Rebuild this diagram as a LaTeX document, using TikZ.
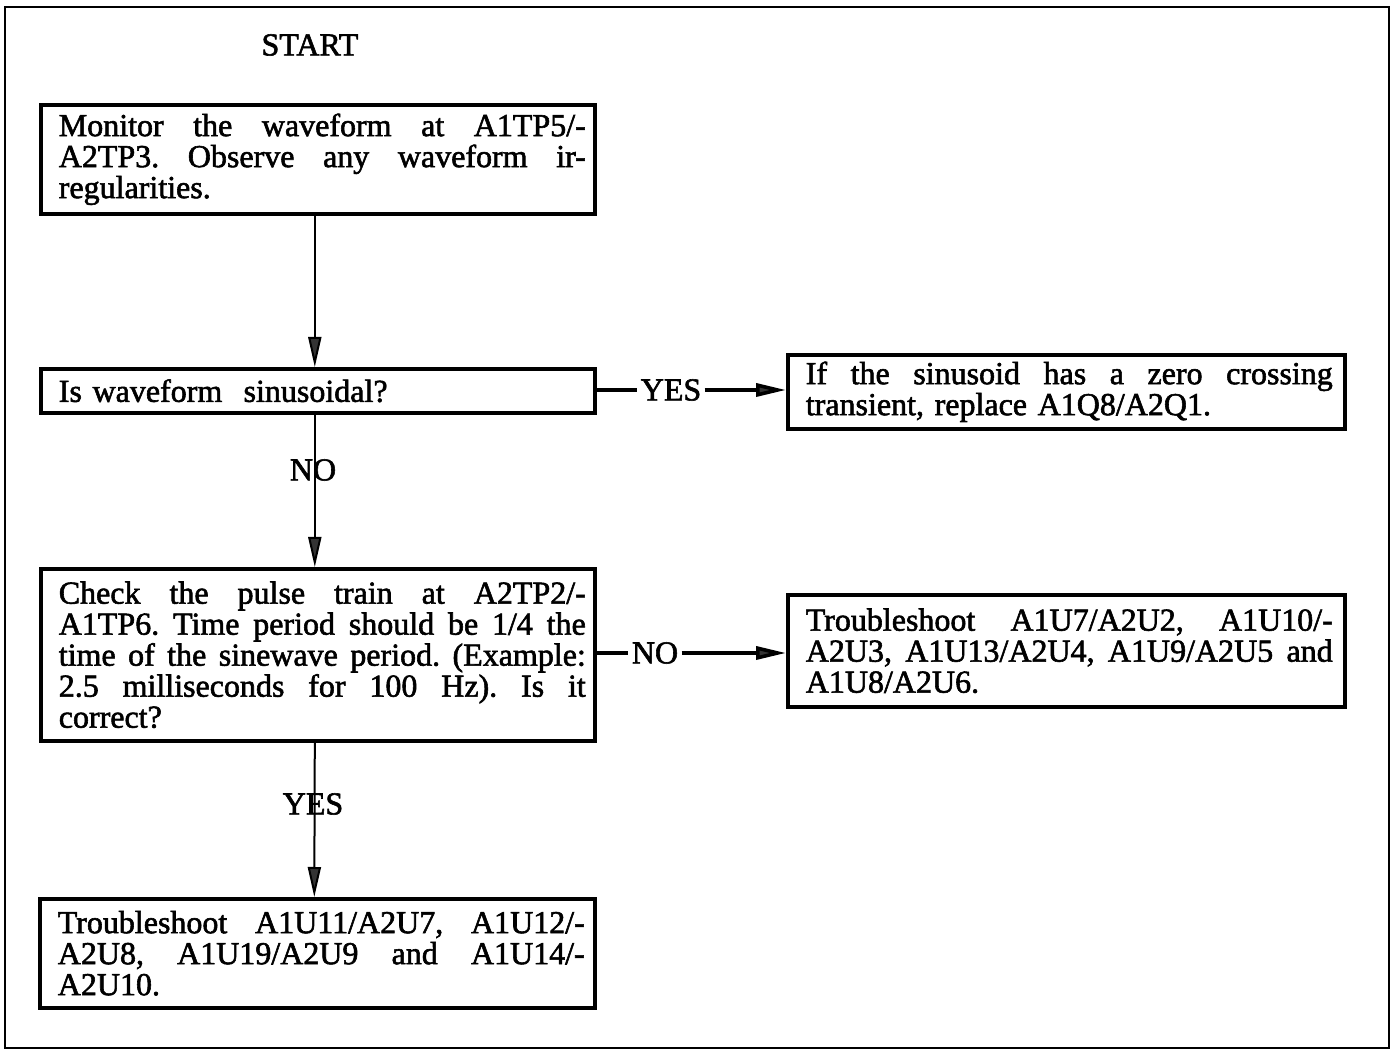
\documentclass[tikz,border=0pt]{standalone}
\usepackage{fontspec}
\setmainfont{Liberation Serif}[FakeBold=1.8]
\usetikzlibrary{arrows.meta}

% justified line and plain last line of a box text
\newcommand{\jl}[1]{\hspace*{9pt}{\frenchspacing\spaceskip=0.25em plus 3em\relax
  \makebox[263.5pt][s]{#1}}}
\newcommand{\lastl}[1]{\hspace*{9pt}#1}

\begin{document}
\begin{tikzpicture}[x=0.5pt,y=-0.5pt,
  every node/.style={font=\fontsize{16pt}{15.5pt}\selectfont},
  stepbox/.style={draw, line width=1.8pt, anchor=north west, align=left,
    text width=277pt, inner xsep=0pt, inner ysep=0pt},
  vflow/.style={line width=1pt, -{Triangle[length=15pt,width=6.5pt,fill=black!80]}},
  hflow/.style={line width=1.8pt},
  hflowtip/.style={line width=1.8pt, -{Triangle[length=15pt,width=6.5pt,fill=black!80]}},
  tag/.style={inner sep=1.5pt}
]
% page and frame
\useasboundingbox (0,0) rectangle (1393,1052);
\fill[white] (0,0) rectangle (1393,1052);
\draw[line width=1.3pt] (5,7) rectangle (1389,1048);

\node (start) at (310,45) {START};

\node[stepbox, minimum height=54.5pt] (mon) at (39,103)
  {\jl{Monitor the waveform at A1TP5/-}\\
   \jl{A2TP3. Observe any waveform ir-}\\
   \lastl{regularities.}};

\node[stepbox, minimum height=22pt] (sine) at (39,367)
  {\lastl{Is waveform\ \ sinusoidal?}};

\node[stepbox, text width=278.5pt, minimum height=37pt] (zero) at (786,353)
  {\jl{If the sinusoid has a zero crossing}\\
   \lastl{transient, replace A1Q8/A2Q1.}};

\node[stepbox, minimum height=86pt] (pulse) at (39,567)
  {\jl{Check the pulse train at A2TP2/-}\\
   \jl{A1TP6. Time period should be 1/4 the}\\
   \jl{time of the sinewave period. (Example:}\\
   \jl{2.5 milliseconds for 100 Hz). Is it}\\
   \lastl{correct?}};

\node[stepbox, text width=278.5pt, minimum height=56pt] (tsa) at (786,593)
  {\jl{Troubleshoot A1U7/A2U2, A1U10/-}\\
   \jl{A2U3, A1U13/A2U4, A1U9/A2U5 and}\\
   \lastl{A1U8/A2U6.}};

\node[stepbox, text width=277.5pt, minimum height=54.5pt] (tsb) at (38,897)
  {\jl{Troubleshoot A1U11/A2U7, A1U12/-}\\
   \jl{A2U8, A1U19/A2U9 and A1U14/-}\\
   \lastl{A2U10.}};

% vertical flow
\draw[vflow] ([xshift=-1.5pt]mon.south) -- ([xshift=-1.5pt]sine.north);
\draw[vflow] ([xshift=-1.5pt]sine.south) -- ([xshift=-1.5pt]pulse.north);
\draw[vflow] ([xshift=-1.5pt]pulse.south) -- ([xshift=-1.5pt]tsb.north);
\node[tag] (no1) at (313,470) {NO};
\node[tag] (yes2) at (313,804) {YES};

% horizontal branches
\node[tag] (yes1) at (671,390) {YES};
\draw[hflow] (sine.east |- yes1) -- (yes1.west);
\draw[hflowtip] (yes1.east) -- (zero.west |- yes1);

\node[tag] (no2) at (655,653) {NO};
\draw[hflow] (pulse.east |- no2) -- (no2.west);
\draw[hflowtip] (no2.east) -- (tsa.west |- no2);
\end{tikzpicture}
\end{document}
